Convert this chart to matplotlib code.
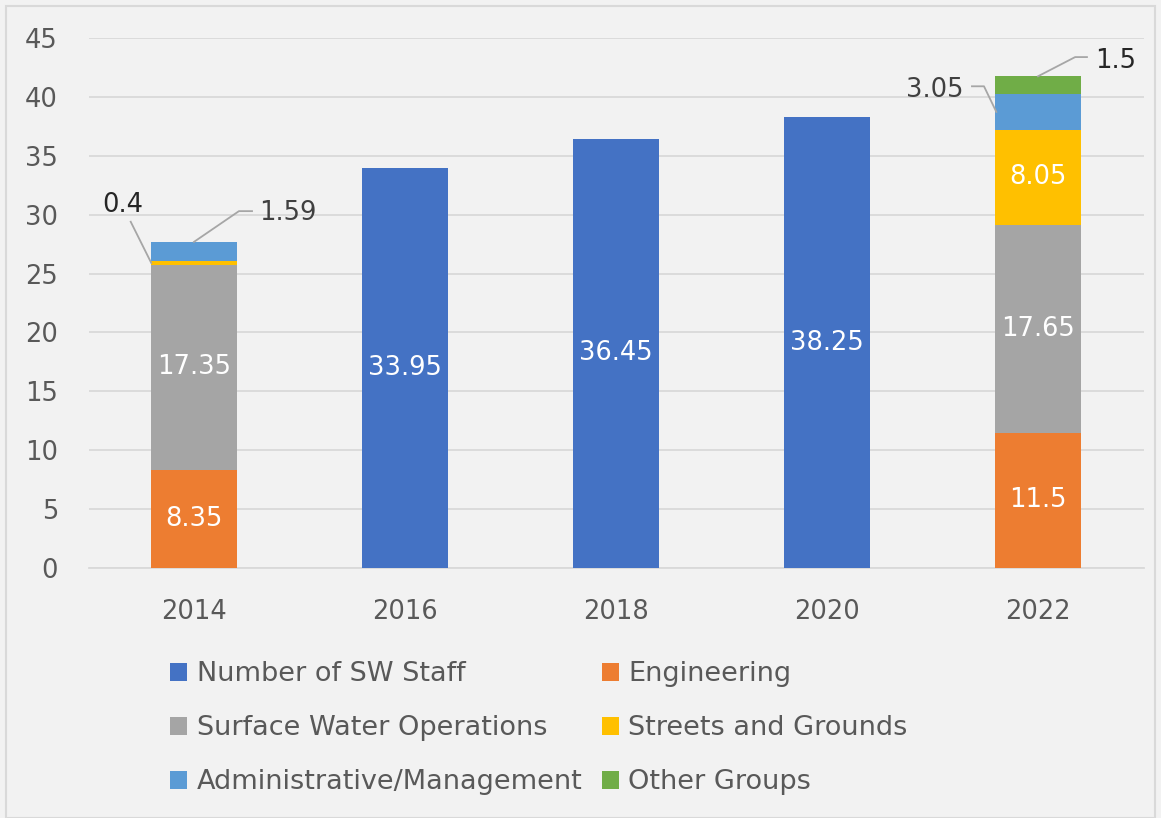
import matplotlib
matplotlib.use("Agg")
import matplotlib.pyplot as plt
from matplotlib.patches import Rectangle
import numpy as np

plt.rcParams['font.family'] = ['DejaVu Sans']

years = ["2014", "2016", "2018", "2020", "2022"]
series_names = ["Number of SW Staff", "Engineering", "Surface Water Operations",
                "Streets and Grounds", "Administrative/Management", "Other Groups"]
sw_staff = [0, 33.95, 36.45, 38.25, 0]
engineering = [8.35, 0, 0, 0, 11.5]
surface_water = [17.35, 0, 0, 0, 17.65]
streets = [0.4, 0, 0, 0, 8.05]
admin = [1.59, 0, 0, 0, 3.05]
other = [0, 0, 0, 0, 1.5]
colors = ["#4472C4", "#ED7D31", "#A5A5A5", "#FFC000", "#5B9BD5", "#70AD47"]

data = [sw_staff, engineering, surface_water, streets, admin, other]
W, H = 1161, 818
FS = 18.5
LFS = 19.5
fig = plt.figure(figsize=(W/100, H/100), dpi=100, facecolor="#F2F2F2")
ax = fig.add_axes([88.5/W, 1-568/H, (1143.5-88.5)/W, 530/H])
ax.set_facecolor("#F2F2F2")
fig.patches.append(Rectangle((6/W, 0), 1-12/W, 1-6/H, transform=fig.transFigure,
                             fill=False, edgecolor="#D9D9D9", lw=1.5))

x = np.arange(len(years))
bottom = np.zeros(len(years))
bars = []
handles = []
for name, vals, c in zip(series_names, data, colors):
    v = np.array(vals, dtype=float)
    b = ax.bar(x, v, 0.405, bottom=bottom, color=c, label=name, zorder=3)
    handles.append(b)
    bars.append((v, bottom.copy()))
    bottom += v

ax.set_ylim(0, 45)
ax.set_xlim(-0.5, len(years)-0.5)
ax.set_yticks(np.arange(0, 46, 5))
ax.set_xticks(x)
ax.set_xticklabels(years)
ax.yaxis.grid(True, color="#D9D9D9", lw=1.3, zorder=0)
for s in ["top", "right", "left"]:
    ax.spines[s].set_visible(False)
ax.spines["bottom"].set_color("#D9D9D9")
ax.spines["bottom"].set_linewidth(1.3)
ax.tick_params(length=0, labelsize=FS, colors="#595959")
ax.tick_params(axis="y", pad=22)
ax.tick_params(axis="x", pad=22)

# inside labels
inside = [(0, 1), (0, 2), (1, 0), (2, 0), (3, 0), (4, 1), (4, 2), (4, 3)]
for i, s in inside:
    v, b = bars[s]
    ax.text(i, b[i] + v[i]/2, f"{v[i]:g}", ha="center", va="center",
            color="white", fontsize=FS, zorder=4)

# outside labels with leader lines
lc = "#A6A6A6"
def leader(pts, text, tx, ty, ha, color):
    xs, ys = zip(*pts)
    ax.plot(xs, ys, color=lc, lw=1.3, zorder=4, clip_on=False)
    ax.text(tx, ty, text, ha=ha, va="center", fontsize=FS, color=color, zorder=4)

# 2014 streets 0.4
v, b = bars[3]
leader([(-0.2025, b[0] + v[0]/2), (-0.30, 29.4)], f"{v[0]:g}", -0.24, 30.85, "right", "#262626")
# 2014 admin 1.59
v, b = bars[4]
leader([(0.0, b[0] + v[0]), (0.213, 30.3), (0.275, 30.3)], f"{v[0]:g}", 0.31, 30.1, "left", "#404040")
# 2022 admin 3.05
v, b = bars[4]
leader([(3.8025, b[4] + v[4]/2), (3.744, 40.9), (3.687, 40.9)], f"{v[4]:g}", 3.645, 40.6, "right", "#404040")
# 2022 other 1.5
v, b = bars[5]
leader([(4.0, b[4] + v[4]), (4.176, 43.38), (4.232, 43.38)], f"{v[4]:g}", 4.27, 43.05, "left", "#262626")

order = [0, 2, 4, 1, 3, 5]
leg = ax.legend([handles[k] for k in order], [series_names[k] for k in order],
                loc="upper left", bbox_to_anchor=(0.0773, -0.176), ncol=2, frameon=False,
                borderpad=0, borderaxespad=0,
                fontsize=LFS, labelcolor="#595959", handlelength=0.64, handleheight=0.64,
                handletextpad=0.35, columnspacing=0.7, labelspacing=1.03)

fig.savefig("out.png", dpi=100, facecolor=fig.get_facecolor())
